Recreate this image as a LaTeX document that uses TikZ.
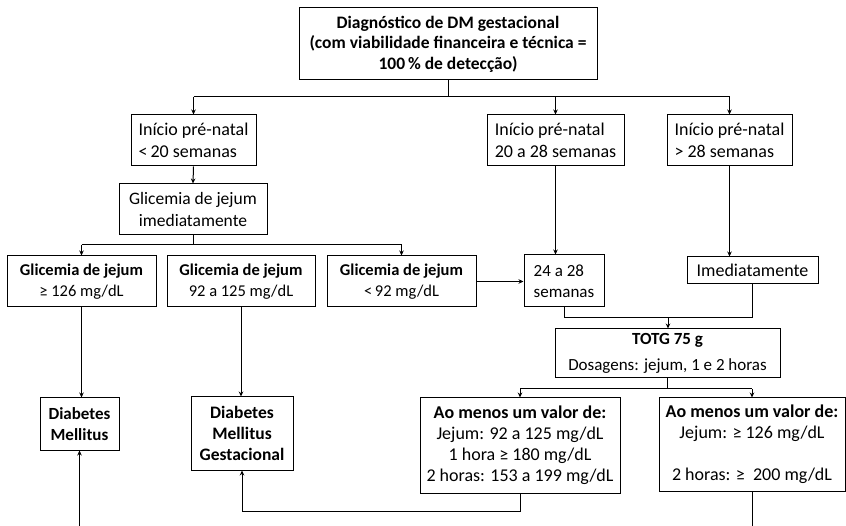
\documentclass[tikz,border=0pt]{standalone}
\usepackage{fontspec}
\setmainfont{Carlito}
\usetikzlibrary{arrows.meta}
\begin{document}
\begin{tikzpicture}[x=1pt,y=-1pt,
  box/.style={draw, line width=1pt, inner sep=0pt, align=center, font=\fontsize{16.5}{21}\selectfont},
  lbox/.style={box, align=left},
  fs/.style args={#1/#2}{font=\fontsize{#1}{#2}\selectfont},
  conn/.style={line width=1pt},
  arr/.style={conn, -{Stealth[length=5pt,width=4.5pt]}}]
\useasboundingbox (0,0) rectangle (846,526);
\clip (0,0) rectangle (846,526);
\node[box, fs=17.5/20.5, minimum width=298, minimum height=72] (top) at (448,44)
  {\bfseries Diagnóstico de DM gestacional\\\bfseries (com viabilidade financeira e técnica =\\\bfseries 100\,\% de detecção)};
\node[lbox, fs=18/22, minimum width=125, minimum height=51] (p1) at (193.5,140.5) {Início pré-natal\\<\,20 semanas};
\node[lbox, fs=18/22, minimum width=137, minimum height=51] (p2) at (555.5,140.5) {Início pré-natal\\20 a 28 semanas};
\node[lbox, fs=18/22, minimum width=125, minimum height=51] (p3) at (729.5,140.5) {Início pré-natal\\> 28 semanas};
\node[box, fs=17.5/21.5, minimum width=148, minimum height=51] (gi) at (193,209.5) {Glicemia de jejum\\imediatamente};
\node[box, minimum width=149, minimum height=51] (g1) at (81.5,281.5) {\textbf{Glicemia de jejum}\\≥ 126 mg/dL};
\node[box, minimum width=148, minimum height=51] (g2) at (241,281.5) {\textbf{Glicemia de jejum}\\92 a 125 mg/dL};
\node[box, minimum width=149, minimum height=51] (g3) at (401.5,281.5) {\textbf{Glicemia de jejum}\\<\,92 mg/dL};
\node[lbox, fs=17/21, minimum width=80, minimum height=52] (s24) at (564,281) {24 a 28\\semanas};
\node[box, fs=18/21, minimum width=131, minimum height=27] (im) at (752.5,270.5) {Imediatamente};
\node[box, fs=17/21, minimum width=225, minimum height=49] (totg) at (667.5,353.5) {\textbf{TOTG 75 g}\\[5pt]Dosagens: jejum, 1 e 2 horas};
\node[box, fs=18/21, minimum width=200, minimum height=95] (a1) at (520,445.5)
  {\textbf{Ao menos um valor de:}\\Jejum: 92 a 125 mg/dL\\1 hora ≥ 180 mg/dL\\2 horas: 153 a 199 mg/dL};
\node[box, fs=18/21, minimum width=186, minimum height=93] (a2) at (752,444.5)
  {\textbf{Ao menos um valor de:}\\Jejum: ≥ 126 mg/dL\\[21pt]2 horas: ≥ \ 200 mg/dL};
\node[box, fs=17/20.5, minimum width=79, minimum height=52] (dm) at (79.5,424) {\bfseries Diabetes\\\bfseries Mellitus};
\node[box, fs=17.5/21, minimum width=102, minimum height=73] (dmg) at (242,433.5) {\bfseries Diabetes\\\bfseries Mellitus\\\bfseries Gestacional};
% connectors
\coordinate (j1) at (448,97);
\draw[conn] (top.south) -- (j1);
\draw[conn] (p1.north |- j1) -- (p3.north |- j1);
\draw[arr] (p1.north |- j1) -- (p1.north);
\draw[arr] (p2.north |- j1) -- (p2.north);
\draw[arr] (p3.north |- j1) -- (p3.north);
\draw[arr] (p1.south) -- (gi.north);
\coordinate (j2) at (193,245);
\draw[conn] (gi.south) -- (j2);
\draw[conn] (g1.north |- j2) -- (g3.north |- j2);
\draw[arr] (g1.north |- j2) -- (g1.north);
\draw[arr] (g3.north |- j2) -- (g3.north);
\draw[arr] (g1.south) -- (g1.south |- dm.north);
\draw[arr] (g2.south) -- (g2.south |- dmg.north);
\draw[arr] (g3.east) -- (g3.east -| s24.west);
\draw[arr] (p2.south) -- (p2.south |- s24.north);
\draw[arr] (p3.south) -- (p3.south |- im.north);
\coordinate (j3) at (668,318);
\draw[conn] (s24.south) -- (s24.south |- j3) -- (j3 -| im.south) -- (im.south);
\draw[arr] (j3) -- (j3 |- totg.north);
\coordinate (j4) at (668,389);
\draw[conn] (totg.south) -- (totg.south |- j4);
\draw[conn] (a1.north |- j4) -- (a2.north |- j4);
\draw[arr] (a1.north |- j4) -- (a1.north);
\draw[arr] (a2.north |- j4) -- (a2.north);
\coordinate (j5) at (242,511);
\draw[arr] (a1.south) -- (a1.south |- j5) -- (j5) -- (dmg.south);
\coordinate (j6) at (79.5,532);
\draw[arr] (a2.south) -- (a2.south |- j6) -- (j6) -- (dm.south);
\end{tikzpicture}
\end{document}
